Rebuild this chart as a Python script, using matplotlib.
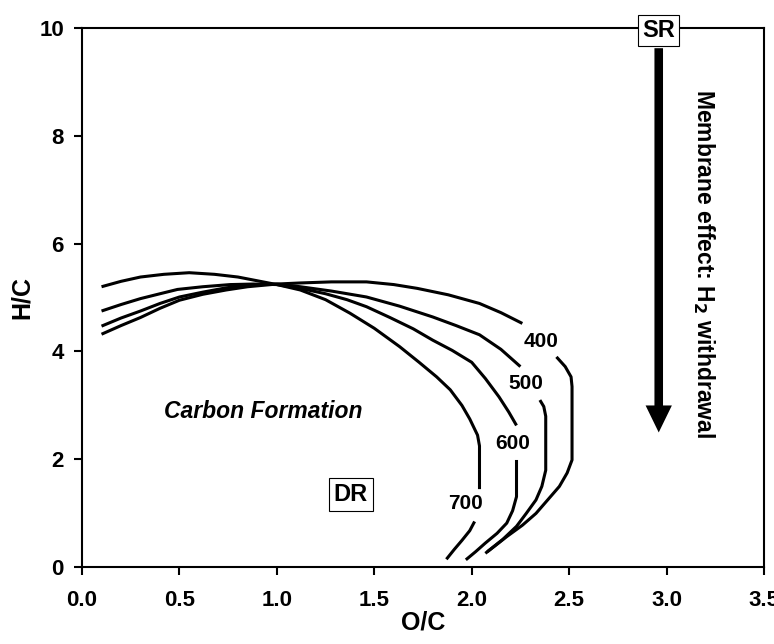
import matplotlib
matplotlib.use("Agg")
import matplotlib.pyplot as plt

plt.rcParams['font.family'] = ['Liberation Sans', 'DejaVu Sans']
plt.rcParams['font.weight'] = 'bold'

# ── data (O/C vs H/C boundaries per temperature) ──
# each curve is split in two where its temperature label sits
oc_700_a = [0.10, 0.20, 0.30, 0.42, 0.55, 0.68, 0.80, 0.90, 1.00, 1.12, 1.25, 1.375,
            1.50, 1.63, 1.73, 1.82, 1.89, 1.95, 1.99, 2.03, 2.04, 2.04]
hc_700_a = [5.20, 5.30, 5.38, 5.43, 5.46, 5.43, 5.38, 5.31, 5.24, 5.14, 4.96, 4.71,
            4.43, 4.09, 3.80, 3.53, 3.29, 3.00, 2.75, 2.45, 2.25, 1.45]
oc_700_b = [2.015, 1.99, 1.95, 1.91, 1.87]
hc_700_b = [0.85, 0.68, 0.50, 0.33, 0.15]

oc_600_a = [0.10, 0.20, 0.30, 0.40, 0.49, 0.62, 0.76, 0.88, 1.00, 1.12, 1.25, 1.36,
            1.46, 1.58, 1.70, 1.80, 1.90, 2.00, 2.07, 2.14, 2.19, 2.23]
hc_600_a = [4.75, 4.87, 4.98, 5.07, 5.15, 5.20, 5.24, 5.25, 5.24, 5.17, 5.07, 4.96,
            4.83, 4.63, 4.42, 4.21, 4.02, 3.80, 3.50, 3.16, 2.88, 2.63]
oc_600_b = [2.23, 2.23, 2.21, 2.18, 2.13, 2.07, 2.02, 1.97]
hc_600_b = [1.99, 1.31, 1.05, 0.82, 0.63, 0.45, 0.29, 0.14]

oc_500_a = [0.10, 0.20, 0.30, 0.40, 0.50, 0.62, 0.74, 0.85, 1.00, 1.12, 1.28, 1.46,
            1.63, 1.80, 1.92, 2.04, 2.15, 2.25]
hc_500_a = [4.47, 4.62, 4.75, 4.89, 5.01, 5.10, 5.18, 5.23, 5.25, 5.20, 5.12, 5.01,
            4.84, 4.64, 4.48, 4.31, 4.04, 3.72]
oc_500_b = [2.35, 2.37, 2.38, 2.38, 2.36, 2.33, 2.28, 2.23, 2.16, 2.08]
hc_500_b = [3.10, 2.98, 2.80, 1.80, 1.50, 1.25, 1.00, 0.76, 0.52, 0.29]

oc_400_a = [0.10, 0.20, 0.30, 0.40, 0.50, 0.62, 0.74, 0.85, 1.00, 1.12, 1.28, 1.46,
            1.60, 1.72, 1.88, 2.04, 2.15, 2.26]
hc_400_a = [4.32, 4.48, 4.63, 4.80, 4.95, 5.06, 5.14, 5.20, 5.25, 5.27, 5.29, 5.29,
            5.24, 5.17, 5.05, 4.89, 4.72, 4.52]
oc_400_b = [2.435, 2.48, 2.51, 2.515, 2.515, 2.49, 2.45, 2.39, 2.33, 2.26, 2.18, 2.12, 2.07]
hc_400_b = [3.90, 3.72, 3.53, 3.35, 1.99, 1.75, 1.50, 1.25, 1.00, 0.78, 0.57, 0.40, 0.26]

temp_labels = ['400', '500', '600', '700']
label_oc = [2.355, 2.28, 2.21, 1.97]
label_hc = [4.19, 3.40, 2.30, 1.19]

x_ticks = [0.0, 0.5, 1.0, 1.5, 2.0, 2.5, 3.0, 3.5]
y_ticks = [0, 2, 4, 6, 8, 10]

# ── figure ───────────────────────────────────────────────────
fig = plt.figure(figsize=(7.74, 6.44), dpi=100)
ax = fig.add_axes([0.106, 0.119, 0.881, 0.838])

segments = [(oc_700_a, hc_700_a), (oc_700_b, hc_700_b),
            (oc_600_a, hc_600_a), (oc_600_b, hc_600_b),
            (oc_500_a, hc_500_a), (oc_500_b, hc_500_b),
            (oc_400_a, hc_400_a), (oc_400_b, hc_400_b)]
for xs, ys in segments:
    ax.plot(xs, ys, color='black', lw=2.2, solid_capstyle='butt', solid_joinstyle='round')

for t, x, y in zip(temp_labels, label_oc, label_hc):
    ax.text(x, y, t, ha='center', va='center', fontsize=15, fontweight='bold')

ax.text(0.93, 2.88, 'Carbon Formation', ha='center', va='center',
        fontsize=16.5, fontweight='bold', style='italic')
ax.text(1.38, 1.35, 'DR', ha='center', va='center', fontsize=17, fontweight='bold',
        bbox=dict(boxstyle='square,pad=0.22', fc='white', ec='black', lw=0.8))

# membrane arrow from SR straight down (vertical, so width is in O/C units)
ax.arrow(2.96, 9.62, 0, -7.12, width=0.044, head_width=0.135, head_length=0.5,
         length_includes_head=True, fc='black', ec='black', lw=0)
ax.text(2.96, 9.95, 'SR', ha='center', va='center', fontsize=17, fontweight='bold',
        bbox=dict(boxstyle='square,pad=0.18', fc='white', ec='black', lw=0.8),
        clip_on=False, zorder=5)
ax.text(3.19, 5.62, 'Membrane effect: H$_2$ withdrawal', rotation=-90,
        ha='center', va='center', fontsize=16.5, fontweight='bold')

ax.set_xlim(0, 3.5)
ax.set_ylim(0, 10)
ax.set_xticks(x_ticks)
ax.set_xticklabels([f'{v:.1f}' for v in x_ticks])
ax.set_yticks(y_ticks)
ax.tick_params(axis='both', direction='out', length=6, width=1.5, labelsize=16, pad=7)
ax.tick_params(axis='x', pad=10)
for lab in ax.get_xticklabels() + ax.get_yticklabels():
    lab.set_fontweight('bold')
for sp in ax.spines.values():
    sp.set_linewidth(1.5)

ax.set_xlabel('O/C', fontsize=18, fontweight='bold', labelpad=0)
ax.set_ylabel('H/C', fontsize=18, fontweight='bold', labelpad=4)

plt.savefig('out.png', dpi=100)
